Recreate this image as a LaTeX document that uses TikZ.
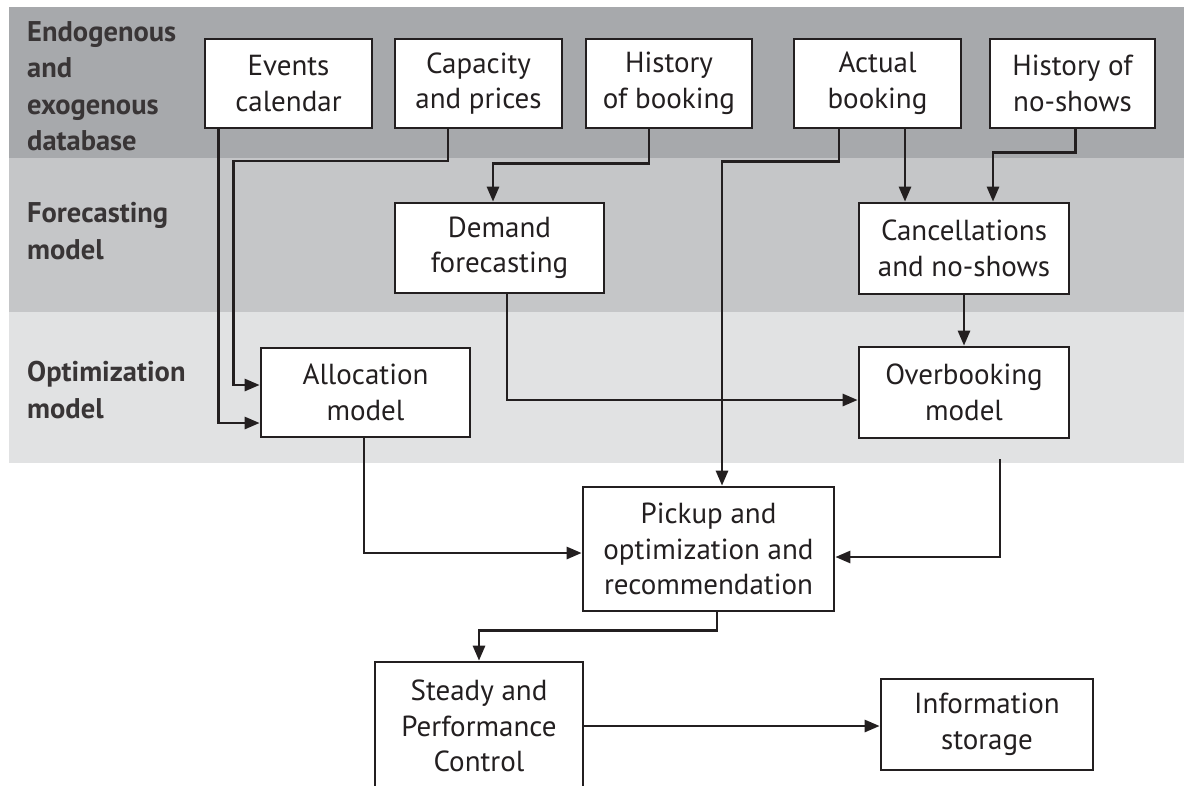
\documentclass[tikz,border=0pt]{standalone}
\usepackage{fontspec}
\setmainfont{PT Sans}
\usetikzlibrary{arrows.meta,calc}
\definecolor{bandA}{HTML}{A7A9AC}
\definecolor{bandB}{HTML}{C5C6C8}
\definecolor{bandC}{HTML}{E1E2E3}
\definecolor{ink}{HTML}{231F20}
\begin{document}
\begin{tikzpicture}[x=1pt,y=-1pt,
  box/.style={draw=ink, line width=2.7pt, fill=white, inner sep=0pt, text=ink,
    align=center, font=\fontsize{29}{35.5}\selectfont},
  lbl/.style={anchor=west, align=left, text=ink!90, inner sep=0pt,
    font=\bfseries\fontsize{28.5}{36.5}\selectfont},
  conn/.style={draw=ink, line width=2.7pt},
  arr/.style={conn, -{Triangle[length=15pt,width=12pt]}}]
\clip (0,0) rectangle (1184,785);
\fill[white] (0,0) rectangle (1184,785);
% bands
\fill[bandA] (9,7) rectangle (1184,158);
\fill[bandB] (9,158) rectangle (1184,312);
\fill[bandC] (9,312) rectangle (1184,463);
% band labels
\node[lbl] (lA) at (27,86) {Endogenous\\and\\exogenous\\database};
\node[lbl] (lB) at (27,231) {Forecasting\\model};
\node[lbl] (lC) at (27,390) {Optimization\\model};
% top row
\node[box, minimum width=167pt, minimum height=89pt] (ev)  at (288.5,83.5) {Events\\calendar};
\node[box, minimum width=167pt, minimum height=89pt] (cap) at (478.5,83.5) {Capacity\\and prices};
\node[box, minimum width=166pt, minimum height=89pt] (hob) at (669,83.5) {History\\of booking};
\node[box, minimum width=167pt, minimum height=89pt] (act) at (877.5,83.5) {Actual\\booking};
\node[box, minimum width=165pt, minimum height=89pt] (hns) at (1072.5,83.5) {History of\\no-shows};
% forecasting
\node[box, minimum width=209pt, minimum height=90pt] (dem) at (499.5,248) {Demand\\forecasting};
\node[box, minimum width=210pt, minimum height=91pt] (can) at (964,248.5) {Cancellations\\and no-shows};
% optimization
\node[box, minimum width=209pt, minimum height=89pt] (all) at (365.5,392.5) {Allocation\\model};
\node[box, minimum width=210pt, minimum height=91pt] (ovb) at (964,392.5) {Overbooking\\model};
% lower
\node[box, minimum width=251pt, minimum height=124pt] (pick) at (708.5,549) {Pickup and\\optimization and\\recommendation};
\node[box, minimum width=208pt, minimum height=128pt] (stdy) at (479,726) {Steady and\\Performance\\Control};
\node[box, minimum width=212pt, minimum height=91pt] (info) at (987,724.5) {Information\\storage};
% connectors
\draw[arr] ($(ev.south west)+(15,0)$) |- ($(all.west)+(0,30.5)$);
\coordinate (capbend) at ($(all.west)+(-26,-231.5)$);
\draw[arr] ($(cap.south)+(-30.5,0)$) |- (capbend) |- ($(all.west)+(0,-7.5)$);
\draw[arr] ($(hob.south)+(-20,0)$) |- ($(dem.north)+(-6.5,-38)$) -- ($(dem.north)+(-6.5,0)$);
\draw[arr] ($(act.south)+(-38.5,0)$) |- ($(pick.north)+(13.5,-324)$) -- ($(pick.north)+(13.5,0)$);
\draw[arr] ($(act.south)+(27.5,0)$) coordinate (t1) -- (t1 |- can.north);
\draw[arr] ($(hns.south)+(3,0)$) |- ($(can.north)+(29,-49)$) -- ($(can.north)+(29,0)$);
\draw[arr] (can.south) -- (ovb.north);
\draw[arr] ($(dem.south)+(7.5,0)$) |- ($(ovb.west)+(0,7.5)$);
\draw[arr] ($(all.south)+(-1.5,0)$) |- ($(pick.west)+(0,4)$);
\coordinate (ovbstart) at ($(ovb.south)+(36,20)$);
\draw[arr] (ovbstart) |- ($(pick.east)+(0,8)$);
\draw[arr] ($(pick.south)+(8.5,0)$) |- ($(stdy.north)+(0,-30)$) -- (stdy.north);
\draw[arr] (stdy.east) -- (stdy.east -| info.west);
\end{tikzpicture}
\end{document}
